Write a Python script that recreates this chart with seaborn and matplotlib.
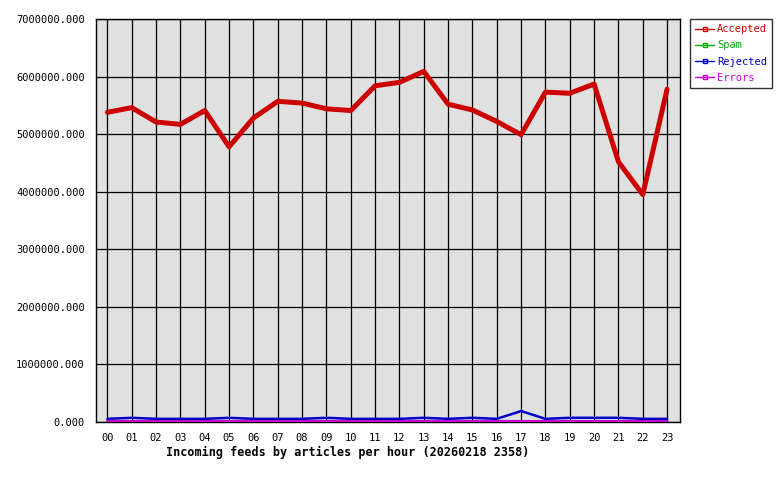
import matplotlib
matplotlib.use("Agg")
import matplotlib.pyplot as plt
import seaborn as sns
import pandas as pd
from matplotlib.lines import Line2D
from matplotlib.ticker import FuncFormatter

hours = ["00","01","02","03","04","05","06","07","08","09","10","11",
         "12","13","14","15","16","17","18","19","20","21","22","23"]
accepted = [5380000, 5460000, 5210000, 5170000, 5410000, 4780000, 5280000, 5570000,
            5540000, 5440000, 5410000, 5840000, 5900000, 6090000, 5520000, 5420000,
            5220000, 4990000, 5730000, 5710000, 5870000, 4520000, 3950000, 5780000]
spam = [0]*24
rejected = [55000, 73000, 55000, 55000, 55000, 73000, 55000, 55000,
            55000, 73000, 55000, 55000, 55000, 73000, 55000, 73000,
            55000, 190000, 55000, 73000, 73000, 73000, 55000, 55000]
errors = [15000]*24

series_names = ["Accepted", "Spam", "Rejected", "Errors"]
series_colors = ["#cc0000", "#00aa00", "#0000cc", "#cc00cc"]
series_widths = [3.6, 1.2, 1.8, 1.5]

rows = []
for name, vals in zip(series_names, [accepted, spam, rejected, errors]):
    for i, v in enumerate(vals):
        rows.append({"hour": i, "value": v, "series": name})
df = pd.DataFrame(rows)

sns.set_style("white")
plt.rcParams['font.family'] = ['DejaVu Sans Mono']

fig = plt.figure(figsize=(7.8, 4.8), dpi=100)
ax = fig.add_axes([96/780, 1-422/480, (680-96)/780, (422-19)/480])
ax.set_facecolor("#e0e0e0")

draw_order = ["Spam", "Errors", "Rejected", "Accepted"]
for name in draw_order:
    idx = series_names.index(name)
    sns.lineplot(data=df[df["series"] == name], x="hour", y="value", ax=ax,
                 color=series_colors[idx], linewidth=series_widths[idx],
                 legend=False, zorder=3)

ax.set_xlim(-0.47, 23.53)
ax.set_ylim(0, 7000000)
ax.set_xticks(range(24))
ax.set_xticklabels(hours)
ax.set_yticks(range(0, 7000001, 1000000))
ax.yaxis.set_major_formatter(FuncFormatter(lambda v, p: f"{v:.3f}"))
ax.grid(True, color="black", linewidth=0.9, zorder=1)
ax.set_axisbelow(True)
for s in ax.spines.values():
    s.set_color("black")
    s.set_linewidth(1.0)
ax.tick_params(axis="both", direction="out", length=5, width=1.0, color="black",
               labelsize=7.5, labelcolor="black", pad=3)
ax.set_xlabel("")
ax.set_ylabel("")

fig.text(348/780, 1-452/480, "Incoming feeds by articles per hour (20260218 2358)",
         ha="center", va="center", fontsize=8.5, fontweight="bold", color="black")

handles = [Line2D([0], [0], color=c, linewidth=1.0, marker="s", markersize=2.5,
                  markerfacecolor="none", markeredgecolor=c)
           for c in series_colors]
leg = fig.legend(handles, series_names, loc="upper left",
                 bbox_to_anchor=(690/780, 1-19/480), frameon=True, fancybox=False,
                 edgecolor="black", fontsize=7.5, handlelength=1.8, handletextpad=0.3,
                 borderpad=0.5, labelspacing=0.6, borderaxespad=0)
leg.get_frame().set_linewidth(1.0)
for t, c in zip(leg.get_texts(), series_colors):
    t.set_color(c)

fig.savefig("out.png", dpi=100)
